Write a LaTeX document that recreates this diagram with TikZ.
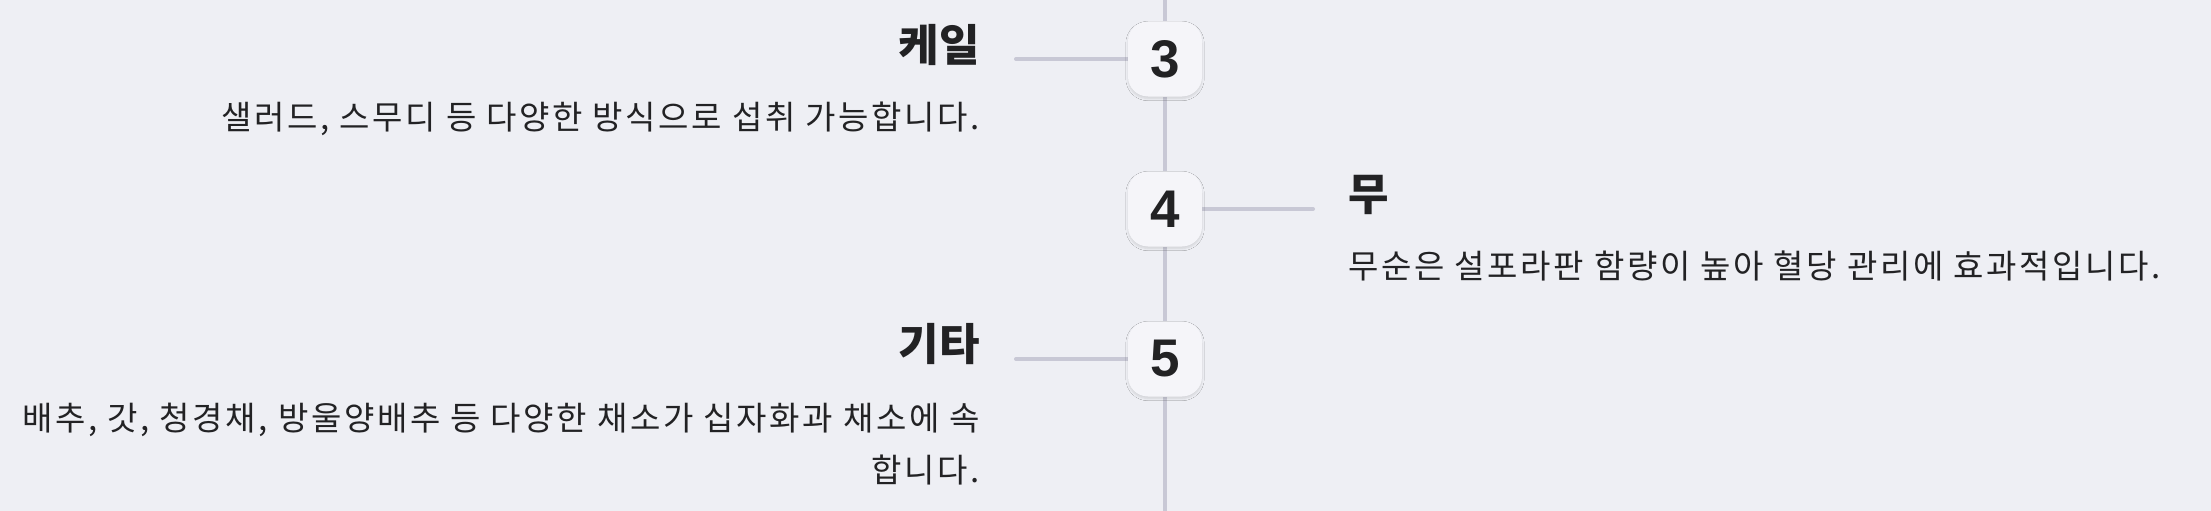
\documentclass[tikz,border=0pt]{standalone}
\usepackage{fontspec}
\setmainfont{Noto Sans CJK KR}
\newfontfamily\blurbfont{Noto Sans CJK KR}[LetterSpace=8]
\newfontfamily\digitfont{Liberation Sans}
\usetikzlibrary{positioning, backgrounds, shadows.blur}
\definecolor{timebg}{RGB}{238,239,244}
\definecolor{timeline}{RGB}{200,200,213}
\definecolor{timeink}{RGB}{34,34,36}
\definecolor{badgefill}{RGB}{245,245,249}

\tikzset{
  spine/.style={draw=timeline, line width=4pt},
  tick/.style={draw=timeline, line width=4pt, line cap=round},
  badge/.style={fill=badgefill, rounded corners=20pt,
    minimum width=74pt, minimum height=75pt, inner sep=0pt,
    text=timeink, font=\digitfont\bfseries\fontsize{53}{53}\selectfont,
    blur shadow={shadow xshift=0pt, shadow yshift=-2pt,
      shadow blur steps=6, shadow opacity=12}},
  heading/.style={inner sep=0pt, text=timeink,
    font=\bfseries\fontsize{44}{44}\selectfont},
  blurb/.style={inner sep=0pt, text=timeink,
    font=\blurbfont\fontsize{33}{52}\selectfont},
}

\begin{document}
\begin{tikzpicture}[x=1pt, y=-1pt]
  \useasboundingbox (0,0) rectangle (2211,511);

  % step badges on the spine
  \node[badge] (b3) at (1165,59) {3};
  \node[badge] (b4) at (1165,209) {4};
  \node[badge] (b5) at (1165,359) {5};

  % free ends of the ticks
  \coordinate (top) at (1165,0);
  \coordinate (bottom) at (1165,511);
  \coordinate (e3) at (1016,59);
  \coordinate (e4) at (1313,209);
  \coordinate (e5) at (1016,359);

  \begin{scope}[on background layer]
    \fill[timebg] (0,0) rectangle (2211,511);
    \draw[spine] (top) -- (b3) -- (b4) -- (b5) -- (bottom);
    \draw[tick] (e3) -- (b3.center);
    \draw[tick] (b4.center) -- (e4);
    \draw[tick] (e5) -- (b5.center);
  \end{scope}

  % 3
  \node[heading, left=36pt of e3, yshift=14pt] (t3) {케일};
  \node[blurb, below=36pt of t3.south east, anchor=north east] (d3)
    {샐러드, 스무디 등 다양한 방식으로 섭취 가능합니다.};

  % 4
  \node[heading, right=35pt of e4, yshift=14pt] (t4) {무};
  \node[blurb, below=36pt of t4.south west, anchor=north west] (d4)
    {무순은 설포라판 함량이 높아 혈당 관리에 효과적입니다.};

  % 5
  \node[heading, left=36pt of e5, yshift=15pt] (t5) {기타};
  \node[blurb, align=right, below=38pt of t5.south east, anchor=north east] (d5)
    {배추, 갓, 청경채, 방울양배추 등 다양한 채소가 십자화과 채소에 속\\합니다.};
\end{tikzpicture}
\end{document}
